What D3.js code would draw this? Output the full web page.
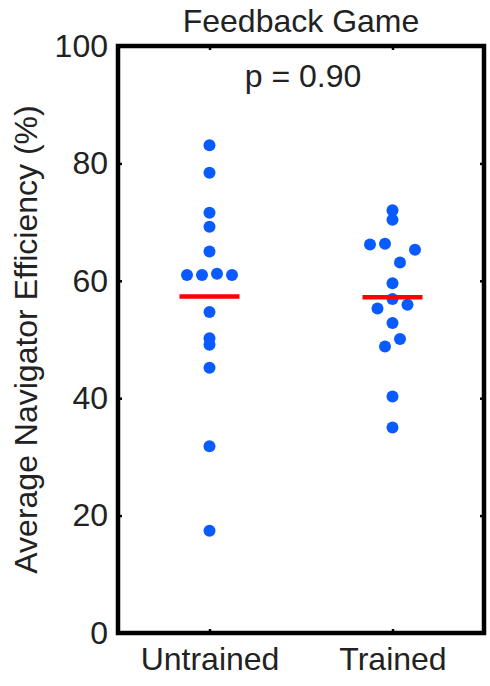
<!DOCTYPE html>
<html>
  <head>
    <title>Feedback Game</title>
    <script src="https://d3js.org/d3.v7.min.js"></script>
    <style>
      body { margin: 0; background: #fff; }
      text { font-family: "Liberation Sans", Arial, sans-serif; fill: #222; }
    </style>
  </head>
  <body>
    <script>
      // values
      let groups = ['Untrained', 'Trained']
      let untrained = [83.1, 78.4, 71.6, 69.2, 65.0, 61.0, 61.0, 61.2, 61.0, 54.7, 50.2, 49.1, 45.2, 31.8, 17.4]
      let untrainedLane = [0, 0, 0, 0, 0, -1.5, -0.5, 0.5, 1.5, 0, 0, 0, 0, 0, 0]
      let trained = [72.0, 70.4, 66.2, 66.3, 65.3, 63.1, 59.6, 56.9, 55.3, 55.9, 52.8, 50.1, 48.8, 40.3, 35.0]
      let trainedLane = [0, 0, -1.5, -0.5, 1.5, 0.5, 0, 0, -1, 1, 0, 0.5, -0.5, 0, 0]
      let yTicks = [0, 20, 40, 60, 80, 100]
      let pText = 'p = 0.90'

      let width = 490, height = 686
      let plotLeft = 118, plotRight = 484, plotTop = 46, plotBottom = 633

      let svg = d3.select('body').append('svg')
                  .attr('width', width)
                  .attr('height', height)

      let xScale = d3.scaleLinear().domain([0.5, 2.5]).range([plotLeft, plotRight])
      let yScale = d3.scaleLinear().domain([0, 100]).range([plotBottom, plotTop])
      let laneScale = d3.scaleLinear().domain([-1, 1]).range([-15, 15])

      // ticks inside the box, left/right and bottom/top
      let fontSize = 32
      svg.append('g').attr('transform', `translate(${plotLeft}, 0)`)
         .call(d3.axisLeft(yScale).tickValues(yTicks).tickSizeInner(-4).tickSizeOuter(0).tickPadding(10))
         .call(g => g.select('.domain').remove())
      svg.append('g').attr('transform', `translate(${plotRight}, 0)`)
         .call(d3.axisRight(yScale).tickValues(yTicks).tickSizeInner(-4).tickSizeOuter(0).tickFormat(''))
         .call(g => g.select('.domain').remove())
      svg.append('g').attr('transform', `translate(0, ${plotBottom})`)
         .call(d3.axisBottom(xScale).tickValues([1, 2]).tickSizeInner(-4).tickSizeOuter(0)
                 .tickPadding(14).tickFormat((d) => groups[d - 1]))
         .call(g => g.select('.domain').remove())
      svg.append('g').attr('transform', `translate(0, ${plotTop})`)
         .call(d3.axisTop(xScale).tickValues([1, 2]).tickSizeInner(-4).tickSizeOuter(0).tickFormat(''))
         .call(g => g.select('.domain').remove())

      svg.selectAll('.tick line').attr('stroke', '#000').attr('stroke-width', 2.5)
      svg.selectAll('.tick text')
         .style('font-family', '"Liberation Sans", Arial, sans-serif')
         .style('font-size', fontSize + 'px')
         .attr('fill', '#222')

      // box
      svg.append('rect')
         .attr('x', plotLeft).attr('y', plotTop)
         .attr('width', plotRight - plotLeft).attr('height', plotBottom - plotTop)
         .attr('fill', 'none').attr('stroke', '#000').attr('stroke-width', 4.5)

      // points
      let sets = [
        {g: 1, vals: untrained, lanes: untrainedLane},
        {g: 2, vals: trained, lanes: trainedLane}
      ]
      sets.forEach(s => {
        svg.append('g').selectAll('circle')
           .data(s.vals).enter().append('circle')
           .attr('cx', (d, i) => xScale(s.g) + laneScale(s.lanes[i]))
           .attr('cy', (d) => yScale(d))
           .attr('r', 6)
           .attr('fill', '#0a5bff')
        let m = d3.mean(s.vals)
        svg.append('line')
           .attr('x1', xScale(s.g) - 30).attr('x2', xScale(s.g) + 30)
           .attr('y1', yScale(m)).attr('y2', yScale(m))
           .attr('stroke', '#ff0000').attr('stroke-width', 4.5)
      })

      // texts
      svg.append('text')
         .attr('x', (plotLeft + plotRight) / 2).attr('y', 32)
         .attr('text-anchor', 'middle')
         .style('font-size', fontSize + 'px')
         .text('Feedback Game')
      svg.append('text')
         .attr('x', (plotLeft + plotRight) / 2 + 2).attr('y', 87)
         .attr('text-anchor', 'middle')
         .style('font-size', fontSize + 'px')
         .text(pText)
      svg.append('text')
         .attr('transform', `translate(37, ${(plotTop + plotBottom) / 2}) rotate(-90)`)
         .attr('text-anchor', 'middle')
         .style('font-size', fontSize + 'px')
         .text('Average Navigator Efficiency (%)')
    </script>
  </body>
</html>
